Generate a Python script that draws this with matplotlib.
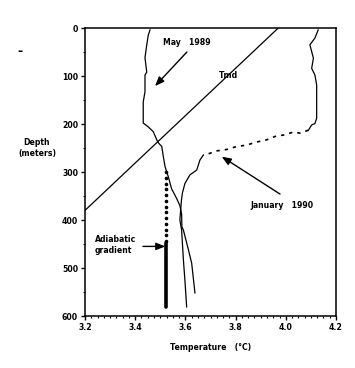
import matplotlib
matplotlib.use("Agg")
import matplotlib.pyplot as plt

# ---- data ----
may_temp = [3.459, 3.452, 3.446, 3.439, 3.446, 3.439, 3.439, 3.432, 3.432, 3.432,
            3.452, 3.472, 3.486, 3.492, 3.506, 3.512, 3.519, 3.532, 3.545, 3.565,
            3.578, 3.585, 3.586, 3.592, 3.612, 3.625, 3.638]
may_depth = [4, 15, 35, 62, 92, 98, 133, 154, 175, 198,
             206, 216, 233, 239, 247, 268, 289, 310, 335, 355,
             370, 388, 414, 421, 462, 490, 552]

jan_temp = [4.129, 4.116, 4.096, 4.103, 4.110, 4.103, 4.116, 4.123, 4.123, 4.123,
            4.116, 4.103, 4.090, 4.057, 4.030, 3.990, 3.957, 3.924, 3.880, 3.844,
            3.804, 3.765, 3.725, 3.698, 3.671, 3.658, 3.645, 3.618, 3.598, 3.588,
            3.584, 3.578, 3.585, 3.592, 3.598, 3.605]
jan_depth = [4, 21, 35, 49, 63, 84, 98, 119, 154, 188,
             199, 202, 213, 219, 217, 223, 226, 233, 238, 244,
             247, 253, 256, 261, 265, 275, 296, 306, 324, 344,
             360, 400, 421, 483, 525, 581]

tmd_temp = [3.20, 3.97]
tmd_depth = [380, 0]

adiab_temp = 3.522
adiab_dot_depth = [300, 312, 324, 336, 348, 360, 372, 384, 396, 408, 420, 432, 444]
adiab_solid_depth = [448, 582]

xticks = [3.2, 3.4, 3.6, 3.8, 4.0, 4.2]
xticklabels = ["3.2", "3.4", "3.6", "3.8", "4.0", "4.2"]
yticks = [0, 100, 200, 300, 400, 500, 600]
yticklabels = ["0", "100", "200", "300", "400", "500", "600"]

# ---- figure ----
W, H = 355, 368
fig = plt.figure(figsize=(W / 100, H / 100), dpi=100)
ax = fig.add_axes([85 / W, 1 - 316 / H, (336 - 85) / W, (316 - 28) / H])

ax.set_xlim(3.2, 4.2)
ax.set_ylim(600, 0)

lw = 0.9
ax.plot(may_temp, may_depth, color="black", lw=lw)
# January: solid, dashed transition, solid
i1, i2 = 12, 24
ax.plot(jan_temp[:i1 + 1], jan_depth[:i1 + 1], color="black", lw=lw)
ax.plot(jan_temp[i1:i2 + 1], jan_depth[i1:i2 + 1], color="black", lw=1.2,
        linestyle=(0, (2.0, 3.0)))
ax.plot(jan_temp[i2:], jan_depth[i2:], color="black", lw=lw)

ax.plot(tmd_temp, tmd_depth, color="black", lw=lw, clip_on=True)

ax.plot([adiab_temp] * len(adiab_dot_depth), adiab_dot_depth, linestyle="none",
        marker="o", markersize=1.6, color="black")
ax.plot([adiab_temp] * 2, adiab_solid_depth, color="black", lw=2.6,
        solid_capstyle="round")

fs = 5.6
txt = dict(fontsize=fs, fontweight="bold", color="black")
ax.text(3.511, 31, "May   1989", ha="left", va="center", **txt)
ax.text(3.77, 98, "Tmd", ha="center", va="center", **txt)
ax.text(3.857, 369, "January   1990", ha="left", va="center", **txt)
ax.text(3.24, 452, "Adiabatic\ngradient", ha="left", va="center",
        linespacing=1.35, **txt)

arrow = dict(arrowstyle="-|>,head_length=0.55,head_width=0.22", color="black",
             lw=1.0, shrinkA=0, shrinkB=0)
ax.annotate("", xy=(3.479, 121), xytext=(3.606, 50), arrowprops=arrow)
ax.annotate("", xy=(3.745, 268), xytext=(3.977, 346), arrowprops=arrow)
ax.annotate("", xy=(3.520, 455), xytext=(3.431, 455), arrowprops=arrow)

ax.set_xticks(xticks)
ax.set_xticklabels(xticklabels)
ax.set_yticks(yticks)
ax.set_yticklabels(yticklabels)
ax.set_xticks([3.2 + 0.025 * k for k in range(41)], minor=True)
ax.set_yticks([50 * k for k in range(13)], minor=True)
ax.tick_params(which="major", direction="out", length=3, width=1.0,
               labelsize=fs, pad=2, top=False, right=False)
ax.tick_params(which="minor", direction="out", length=1.6, width=0.8,
               top=False, right=False)
for lab in ax.get_xticklabels() + ax.get_yticklabels():
    lab.set_fontweight("bold")
for s in ax.spines.values():
    s.set_linewidth(1.1)

fig.text(37 / W, 1 - 148 / H, "Depth\n(meters)", ha="center", va="center",
         linespacing=1.3, **txt)
fig.text(211 / W, 1 - 348 / H, "Temperature   (\u00b0C)", ha="center",
         va="center", **txt)
fig.text(20 / W, 1 - 52 / H, "-", ha="center", va="center", fontsize=9,
         fontweight="bold", color="black")

fig.savefig("out.png", dpi=100)
